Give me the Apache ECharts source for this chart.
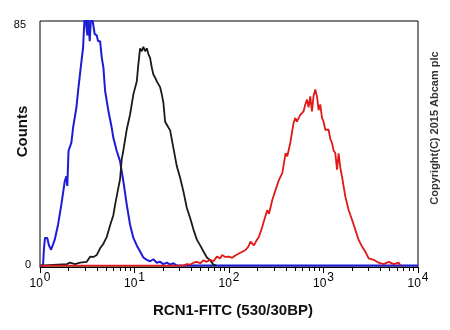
<!DOCTYPE html>
<html>
<head>
<meta charset="utf-8">
<script src="https://cdn.jsdelivr.net/npm/echarts@6/dist/echarts.min.js"></script>
<style>html,body{margin:0;padding:0;background:#fff;}#c{width:450px;height:330px;}</style>
</head>
<body>
<div id="c"></div>
<script>
// x values are log10 of fluorescence (decades), y values are counts
var blueX = [0.000,0.032,0.042,0.053,0.077,0.095,0.117,0.138,0.156,0.191,0.226,0.262,0.279,0.289,0.302,0.332,0.350,0.385,0.403,0.431,0.456,0.474,0.490,0.501,0.508,0.526,0.543,0.561,0.579,0.601,0.614,0.636,0.654,0.671,0.689,0.724,0.759,0.776,0.812,0.847,0.882,0.918,0.953,0.988,1.024,1.059,1.094,1.130,1.165,1.200,1.236,1.271,1.306,1.342,1.377,1.412,1.448,4.000];
var blueY = [0,0,6,9.6,9.6,7,5.5,5.5,9,14.2,21.2,29.3,31,27.7,39.9,42.7,47.9,54.9,60.7,68.8,75.8,88,88,80,88,78,88,88,80.4,80,78,78,72.2,68.8,60.7,53.7,47.9,44.4,39.8,36.3,29.3,21.2,14.2,9.6,7,4.9,2.8,2,1.5,2.2,1,1.3,0.5,1,0.3,0.8,0,0];

var blackX = [0,0.283,0.318,0.371,0.424,0.495,0.530,0.565,0.601,0.636,0.671,0.707,0.742,0.776,0.794,0.829,0.847,0.865,0.882,0.918,0.953,0.988,1.024,1.041,1.059,1.077,1.094,1.112,1.130,1.147,1.165,1.183,1.200,1.218,1.236,1.253,1.271,1.289,1.306,1.324,1.342,1.359,1.377,1.412,1.448,1.483,1.518,1.554,1.589,1.624,1.660,1.695,1.730,1.766,1.801,1.836,1.864];
var blackY = [0,0.5,1,0.5,1,1.3,3.1,3,3.7,6,7.6,10,14,17.5,21,27,30,37,40,47.3,52.5,59.5,64,70,75.5,74.5,76,74.5,75.5,73.5,72.2,68.8,66.4,65.3,64,64,62,59.5,56.5,50,50.5,48,47,40.8,34.5,30.5,25.7,20,16.5,12.5,9,7,4.9,2.8,1.8,0.3,0];

var redX = [0,1.520,1.554,1.589,1.624,1.660,1.695,1.730,1.766,1.801,1.836,1.872,1.907,1.928,1.960,1.999,2.034,2.066,2.105,2.140,2.175,2.203,2.228,2.264,2.288,2.317,2.352,2.383,2.405,2.423,2.458,2.493,2.529,2.564,2.599,2.617,2.648,2.683,2.701,2.719,2.736,2.754,2.789,2.807,2.825,2.842,2.860,2.878,2.895,2.913,2.931,2.948,2.966,2.984,3.001,3.019,3.054,3.072,3.090,3.107,3.125,3.143,3.160,3.178,3.196,3.231,3.266,3.302,3.337,3.372,3.408,3.443,3.478,3.531,3.584,3.637,3.690,3.743,3.796,3.814];
var redY = [0,0,0.5,0.3,1,1.3,0.8,1.8,1.3,2,1.5,3.1,2.5,3.7,3,3.1,2.7,3.5,4.2,4.8,5.4,6.5,8.3,7,8.5,10,13.5,17,19.3,18,22.8,26.3,29.8,32.1,39.1,38,42.6,49.5,51.3,50,49.5,52.4,53.6,56,57.7,55,58.8,53.6,59,61.2,58.8,54,56,51.3,50,47.2,47.2,44,42.6,40,39.1,33.3,39,34,30.9,24,19.3,15.9,12.4,8.9,6.6,4.8,2.5,2,1,0.5,1.3,0.5,1,0];

var xMajorExponents = [0, 1, 2, 3, 4];
var yTickLabels = [0, 85];
var xTitle = 'RCN1-FITC (530/30BP)';
var yTitle = 'Counts';
var copyrightText = 'Copyright(C) 2015 Abcam plc';

function pairs(xs, ys) { return xs.map(function (x, i) { return [x, ys[i]]; }); }
var minorTicks = [];
for (var d = 0; d < 4; d++) { for (var k = 2; k <= 9; k++) { minorTicks.push(d + Math.log10(k)); } }

var FONT = '"Liberation Sans", Arial, sans-serif';
var chart = echarts.init(document.getElementById('c'), null, { renderer: 'canvas' });
chart.setOption({
  animation: false,
  backgroundColor: '#fff',
  grid: { left: 40, right: 32, top: 21, bottom: 63, show: true, borderColor: '#000', borderWidth: 1, backgroundColor: 'transparent' },
  xAxis: [{
    type: 'value', min: 0, max: 4, position: 'bottom',
    axisLine: { show: true, onZero: false, lineStyle: { color: '#000', width: 1 } },
    axisTick: { show: true, inside: false, length: 6, customValues: xMajorExponents, lineStyle: { color: '#000' } },
    splitLine: { show: false },
    axisLabel: {
      show: true, margin: 8, customValues: xMajorExponents, color: '#000', fontFamily: FONT,
      formatter: function (v) { return '{b|10}{s|' + v + '}'; },
      rich: {
        b: { fontSize: 12, fontFamily: FONT, color: '#000', lineHeight: 12, padding: [6, 0, 0, 0] },
        s: { fontSize: 12, fontFamily: FONT, color: '#000', lineHeight: 12, padding: [0, 0, 6, 1] }
      }
    }
  }, {
    type: 'value', min: 0, max: 4, position: 'bottom',
    axisLine: { show: false, onZero: false },
    axisTick: { show: true, inside: false, length: 4, customValues: minorTicks, lineStyle: { color: '#000' } },
    axisLabel: { show: false },
    splitLine: { show: false }
  }],
  yAxis: {
    type: 'value', min: -0.5, max: 85,
    axisLine: { show: false }, axisTick: { show: false }, splitLine: { show: false },
    axisLabel: {
      customValues: yTickLabels, margin: 9, color: '#000', fontFamily: FONT, fontSize: 11,
      formatter: function (v) { return v === 0 ? '{z|0}' : '{n|' + v + '}'; },
      rich: {
        z: { fontSize: 11, fontFamily: FONT, color: '#000', padding: [0, 0, 2, 0] },
        n: { fontSize: 11, fontFamily: FONT, color: '#000', padding: [8, 5, 0, 0] }
      }
    }
  },
  graphic: [
    { type: 'text', x: 233, y: 311, style: { text: xTitle, font: 'bold 15px ' + FONT, fill: '#111', textAlign: 'center', textVerticalAlign: 'middle' } },
    { type: 'text', x: 22.5, y: 131.5, rotation: Math.PI / 2, style: { text: yTitle, font: 'bold 15px ' + FONT, fill: '#111', textAlign: 'center', textVerticalAlign: 'middle' } },
    { type: 'text', x: 435, y: 128, rotation: Math.PI / 2, style: { text: copyrightText, font: 'bold 11px ' + FONT, fill: '#333', textAlign: 'center', textVerticalAlign: 'middle' } }
  ],
  series: [
    { type: 'line', xAxisIndex: 0, data: pairs(blueX, blueY), showSymbol: false, clip: true, lineStyle: { color: '#1c1cd8', width: 2 }, z: 2 },
    { type: 'line', xAxisIndex: 0, data: pairs(blackX, blackY), showSymbol: false, clip: true, lineStyle: { color: '#1a1a1a', width: 1.8 }, z: 3 },
    { type: 'line', xAxisIndex: 0, data: pairs(redX, redY), showSymbol: false, clip: true, lineStyle: { color: '#e01818', width: 1.8 }, z: 4 }
  ]
});
</script>
</body>
</html>
